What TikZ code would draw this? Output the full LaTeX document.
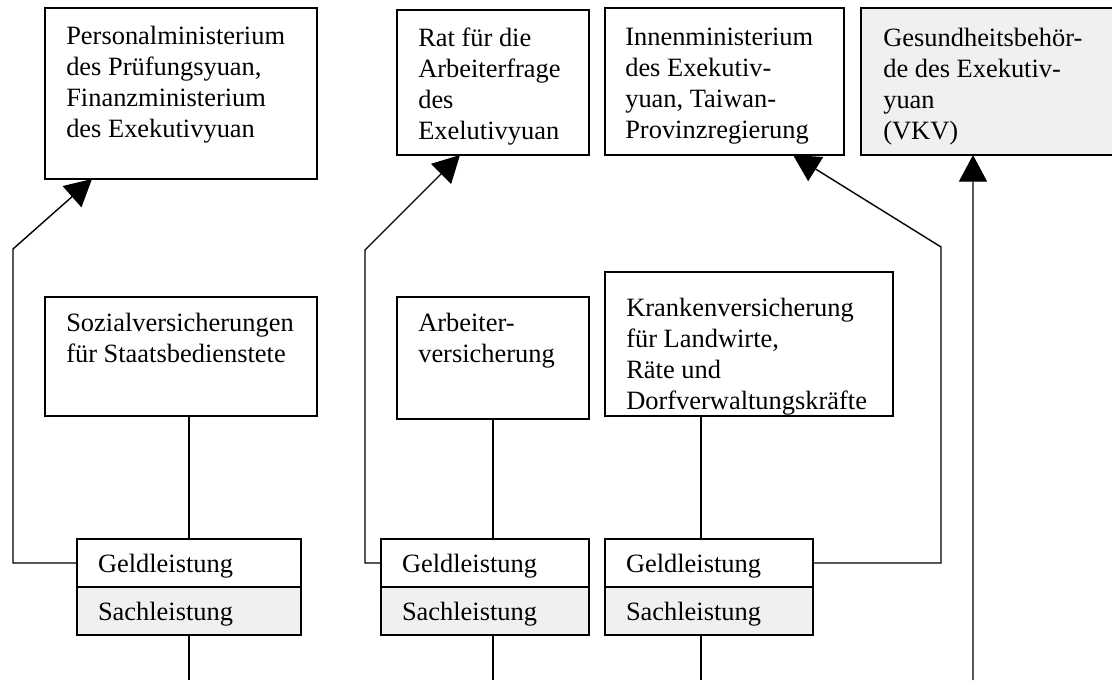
\documentclass[tikz,border=0pt]{standalone}
\usepackage{fontspec}
\setmainfont{Liberation Serif}
\usepackage{tikz}
\usetikzlibrary{arrows.meta}
\usetikzlibrary{positioning}
\definecolor{hellgrau}{RGB}{240,240,240}
\tikzset{amt/.style={draw, line width=1.1pt, anchor=north west, inner sep=0pt, outer sep=0pt},
  schrift/.style={anchor=north west, inner sep=0pt, align=left, font=\fontsize{18.8}{22}\selectfont},
  leistung/.style={draw, line width=1.1pt, anchor=north west, minimum height=1.2cm, align=left,
    inner xsep=0.525cm, inner ysep=0pt, outer sep=0pt, text depth=0pt, font=\fontsize{18.8}{22}\selectfont},
  linie/.style={line width=1pt},
  pfeil/.style={line width=1pt, -{Triangle[length=19pt,width=20pt]}}
}

\begin{document}
\begin{tikzpicture}
                \useasboundingbox (0,0) rectangle (27.8,17);
                
                % Traeger oben
                \node[amt, minimum width=6.8cm, minimum height=4.275cm] (pm) at (1.125,16.8) {};
                \node[amt, minimum width=4.8cm, minimum height=3.625cm] (rat) at (9.925,16.75) {};
                \node[amt, minimum width=5.975cm, minimum height=3.675cm] (innen) at (15.125,16.8) {};
                \node[amt, fill=hellgrau, minimum width=6.35cm, minimum height=3.675cm] (gesund) at (21.525,16.8) {};
                
                \node[schrift] (pmtext) at ([shift={(0.525,-0.45)}]pm.north west)
                    {Personalministerium\\des Prüfungsyuan,\\Finanzministerium\\des Exekutivyuan};
                \node[schrift] (rattext) at ([shift={(0.525,-0.45)}]rat.north west)
                    {Rat für die\\Arbeiterfrage\\des\\Exelutivyuan};
                \node[schrift] (innentext) at ([shift={(0.5,-0.5)}]innen.north west)
                    {Innenministerium\\des Exekutiv-\\yuan, Taiwan-\\Provinzregierung};
                \node[schrift] (gesundtext) at ([shift={(0.55,-0.5)}]gesund.north west)
                    {Gesundheitsbehör-\\de des Exekutiv-\\yuan\\(VKV)};
                
                % Versicherungen
                \node[amt, minimum width=6.8cm, minimum height=2.975cm] (soz) at (1.125,9.575) {};
                \node[amt, minimum width=4.8cm, minimum height=3.05cm] (arb) at (9.925,9.575) {};
                \node[amt, minimum width=7.2cm, minimum height=3.6cm] (kv) at (15.125,10.2) {};
                
                \node[schrift] (soztext) at ([shift={(0.525,-0.4)}]soz.north west)
                    {Sozialversicherungen\\für Staatsbedienstete};
                \node[schrift] (arbtext) at ([shift={(0.525,-0.4)}]arb.north west)
                    {Arbeiter-\\versicherung};
                \node[schrift] (kvtext) at ([shift={(0.525,-0.65)}]kv.north west)
                    {Krankenversicherung\\für Landwirte,\\Räte und\\Dorfverwaltungskräfte};
                
                % Leistungen
                \node[leistung, text width=4.55cm] (geld1) at (1.925,3.525) {Geldleistung};
                \node[leistung, text width=4.55cm, fill=hellgrau, below=0pt of geld1] (sach1) {Sachleistung};
                \node[leistung, text width=4.15cm] (geld2) at (9.525,3.525) {Geldleistung};
                \node[leistung, text width=4.15cm, fill=hellgrau, below=0pt of geld2] (sach2) {Sachleistung};
                \node[leistung, text width=4.15cm] (geld3) at (15.125,3.525) {Geldleistung};
                \node[leistung, text width=4.15cm, fill=hellgrau, below=0pt of geld3] (sach3) {Sachleistung};
                
                % senkrechte Linien
                \draw[linie] (geld1.north) -- (geld1.north |- soz.south);
                \draw[linie] (sach1.south) -- (sach1.south |- 0,0);
                \draw[linie] (arb.south) -- (arb.south |- geld2.north);
                \draw[linie] (arb.south |- sach2.south) -- (arb.south |- 0,0);
                \coordinate (kvfuss) at ([xshift=-0.2cm]geld3.north);
                \draw[linie] (kvfuss) -- (kvfuss |- kv.south);
                \draw[linie] (kvfuss |- sach3.south) -- (kvfuss |- 0,0);
                
                % Pfeile
                \draw[pfeil] (geld1.west) -| (0.325,10.775) -- ([xshift=1.175cm]pm.south west);
                \draw[pfeil] (geld2.west) -| (9.125,10.75) -- ([xshift=1.575cm]rat.south west);
                \draw[pfeil] (geld3.east) -| (23.525,10.825) -- ([xshift=4.7cm]innen.south west);
                \coordinate (vkvfuss) at (24.325,0);
                \draw[pfeil] (vkvfuss) -- ([xshift=2.8cm]gesund.south west);
            \end{tikzpicture}
\end{document}
